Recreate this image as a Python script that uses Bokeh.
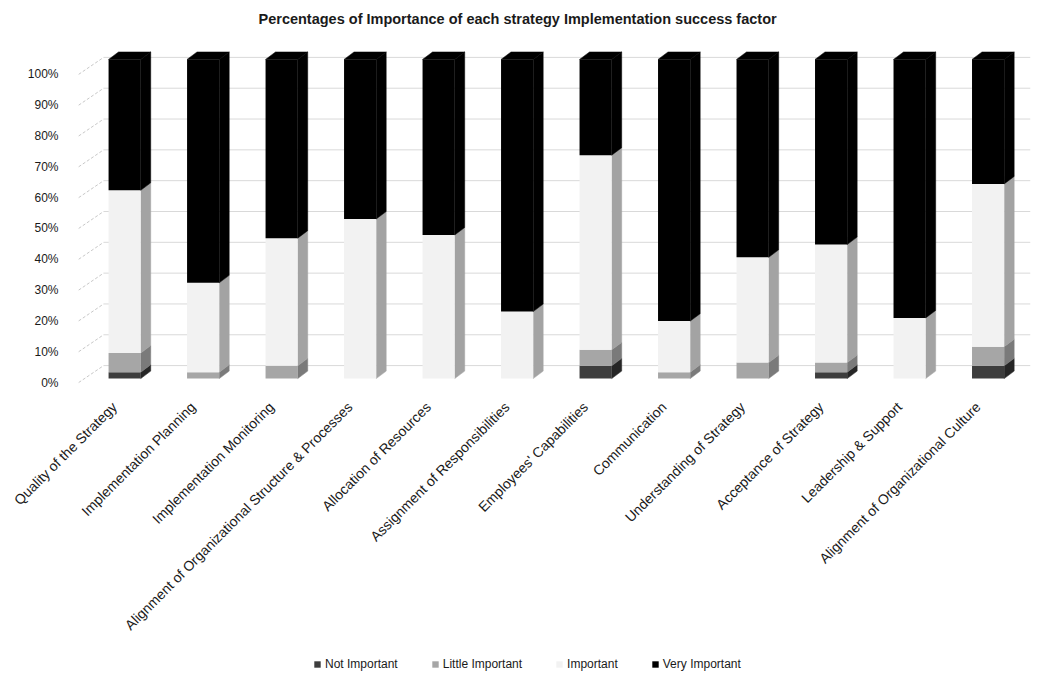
import numpy as np
from bokeh.plotting import figure
from bokeh.layouts import column
from bokeh.models import (Range1d, LinearAxis, FixedTicker, PrintfTickFormatter,
                          Legend, LegendItem, Title)
from bokeh.embed import file_html
from bokeh.resources import INLINE

# Survey results: share of respondents (%) per importance rating
factors = [
    "Quality of the Strategy",
    "Implementation Planning",
    "Implementation Monitoring",
    "Alignment of Organizational Structure & Processes",
    "Allocation of Resources",
    "Assignment of Responsibilities",
    "Employees' Capabilities",
    "Communication",
    "Understanding of Strategy",
    "Acceptance of Strategy",
    "Leadership & Support",
    "Alignment of Organizational Culture",
]
not_important = [2, 0, 0, 0, 0, 0, 4, 0, 0, 2, 0, 4]
little_important = [6, 2, 4, 0, 0, 0, 5, 2, 5, 3, 0, 6]
important = [51, 28, 40, 50, 45, 21, 61, 16, 33, 37, 19, 51]
very_important = [41, 70, 56, 50, 55, 79, 30, 82, 62, 58, 81, 39]

series_names = ["Not Important", "Little Important", "Important", "Very Important"]
series_values = [not_important, little_important, important, very_important]
front_colors = ["#3d3d3d", "#a6a6a6", "#f2f2f2", "#000000"]
side_colors = ["#262626", "#7a7a7a", "#a3a3a3", "#000000"]

y_ticks = [0, 10, 20, 30, 40, 50, 60, 70, 80, 90, 100]

# pseudo-3D geometry
BAR_W = 0.41
DX = 0.127        # depth offset along x (category units)
DY = 2.34         # depth offset along y (percent units)
WALL_DEPTH = 5.5  # back wall offset on the wall scale
WALL_FRONT_X = -0.586
WALL_BACK_X = -0.268
LABEL_SHIFT = 0.13  # category labels sit on the floor's front edge

FONT = "Liberation Sans"
TEXT_COLOR = "#1a1a1a"

p = figure(width=1038, height=650, output_backend="svg", toolbar_location=None,
           x_range=Range1d(-0.69, 11.54), y_range=Range1d(-3.74, 103.74),
           y_axis_location=None, min_border_left=70, min_border_right=8,
           min_border_top=45, min_border_bottom=260)
p.extra_y_ranges = {"wall": Range1d(-2.58, 108.71)}
p.outline_line_color = None
p.xgrid.visible = False
p.ygrid.visible = False
p.background_fill_color = "white"
p.border_fill_color = "white"

p.title.text = "Percentages of Importance of each strategy Implementation success factor"
p.title.align = "left"
p.title.offset = 188
p.title.text_font = FONT
p.title.text_font_size = "14.5px"
p.title.text_font_style = "bold"
p.title.text_color = TEXT_COLOR
p.title.standoff = 17
# blank strip between the title and the plot area
p.add_layout(Title(text=" ", text_font_size="1px", standoff=9), "above")

# back wall gridlines and left wall lines
x_right = p.x_range.end
p.segment(x0=[WALL_BACK_X] * len(y_ticks), x1=[x_right] * len(y_ticks),
          y0=[v + WALL_DEPTH for v in y_ticks], y1=[v + WALL_DEPTH for v in y_ticks],
          y_range_name="wall", line_color="#d9d9d9", line_width=1)
p.segment(x0=[WALL_FRONT_X] * len(y_ticks), x1=[WALL_BACK_X] * len(y_ticks),
          y0=y_ticks, y1=[v + WALL_DEPTH for v in y_ticks],
          y_range_name="wall", line_color="#c8c8c8", line_width=1, line_dash="3 2")

xs = np.arange(len(factors))
bottoms = np.zeros(len(factors))
for name, vals, fc, sc in zip(series_names, series_values, front_colors, side_colors):
    vals = np.array(vals, dtype=float)
    tops = bottoms + vals
    side_xs, side_ys = [], []
    for i in range(len(factors)):
        if vals[i] <= 0:
            continue
        xr = xs[i] + BAR_W / 2
        side_xs.append([xr, xr + DX, xr + DX, xr])
        side_ys.append([bottoms[i], bottoms[i] + DY, tops[i] + DY, tops[i]])
    if side_xs:
        p.patches(side_xs, side_ys, fill_color=sc, line_color=sc, line_width=0.5)
    p.vbar(x=xs, width=BAR_W, bottom=bottoms.copy(), top=tops.copy(),
           fill_color=fc, line_color=None)
    bottoms = tops

# top faces of the stacks
top_xs, top_ys = [], []
for i in range(len(factors)):
    xl, xr = xs[i] - BAR_W / 2, xs[i] + BAR_W / 2
    t = bottoms[i]
    top_xs.append([xl, xl + DX, xr + DX, xr])
    top_ys.append([t, t + DY, t + DY, t])
p.patches(top_xs, top_ys, fill_color="#000000", line_color="#000000", line_width=0.5)

# axes
label_ticks = [round(float(i) - LABEL_SHIFT, 3) for i in xs]
xaxis = p.xaxis[0]
xaxis.ticker = FixedTicker(ticks=label_ticks)
xaxis.major_label_overrides = {t: f for t, f in zip(label_ticks, factors)}
xaxis.major_label_orientation = np.pi / 4
xaxis.axis_line_color = None
xaxis.major_tick_line_color = None
xaxis.minor_tick_line_color = None
xaxis.major_label_standoff = 8
xaxis.major_label_text_font = FONT
xaxis.major_label_text_font_size = "14px"
xaxis.major_label_text_color = TEXT_COLOR

yaxis = LinearAxis(y_range_name="wall", ticker=FixedTicker(ticks=y_ticks),
                   formatter=PrintfTickFormatter(format="%d%%"))
yaxis.axis_line_color = None
yaxis.major_tick_line_color = None
yaxis.minor_tick_line_color = None
yaxis.major_label_standoff = 6
yaxis.major_label_text_font = FONT
yaxis.major_label_text_font_size = "12px"
yaxis.major_label_text_color = TEXT_COLOR
p.add_layout(yaxis, "left")

# legend strip underneath the chart (swatch renderers sit outside the visible range)
lg = figure(width=1038, height=29, output_backend="svg", toolbar_location=None,
            x_range=Range1d(0, 1), y_range=Range1d(0, 1),
            x_axis_location=None, y_axis_location=None,
            min_border_left=0, min_border_right=0, min_border_top=0, min_border_bottom=0)
lg.outline_line_color = None
lg.xgrid.visible = False
lg.ygrid.visible = False
items = []
for name, fc in zip(series_names, front_colors):
    r = lg.vbar(x=[-5], bottom=[-5], top=[-4], width=0.1, fill_color=fc, line_color=None)
    items.append(LegendItem(label=name, renderers=[r]))
legend = Legend(items=items, orientation="horizontal", location=(243, 8),
                border_line_color=None, background_fill_alpha=0,
                label_text_font=FONT, label_text_font_size="12px",
                label_text_color=TEXT_COLOR, glyph_width=8, glyph_height=8,
                label_standoff=4, spacing=33, padding=6, margin=0)
lg.add_layout(legend)

layout = column(p, lg, spacing=0)
open("out.html", "w").write(file_html(layout, INLINE))
